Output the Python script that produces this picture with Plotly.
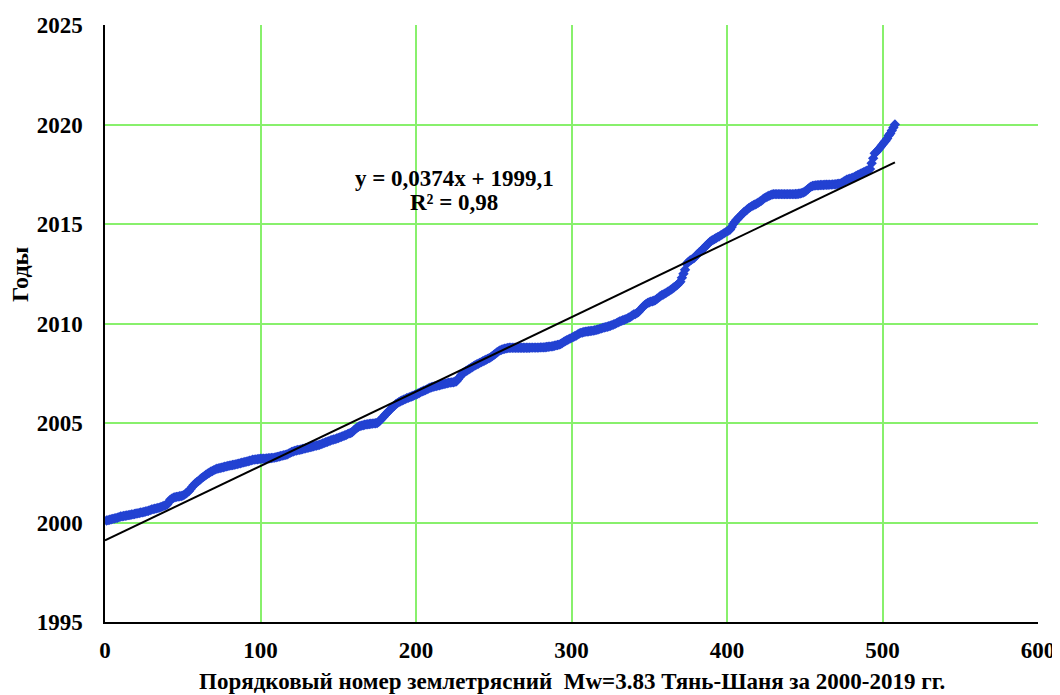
import plotly.graph_objects as go

# Sequence numbers of earthquakes (1..508) and their occurrence year (decimal)
years = [
    2000.10, 2000.12, 2000.14, 2000.16, 2000.18, 2000.20, 2000.22, 2000.24, 2000.27, 2000.30,
    2000.31, 2000.33, 2000.34, 2000.35, 2000.37, 2000.38, 2000.40, 2000.41, 2000.43, 2000.45,
    2000.46, 2000.48, 2000.50, 2000.51, 2000.53, 2000.55, 2000.57, 2000.59, 2000.62, 2000.65,
    2000.67, 2000.69, 2000.71, 2000.73, 2000.75, 2000.78, 2000.81, 2000.84, 2000.87, 2000.90,
    2001.02, 2001.15, 2001.20, 2001.24, 2001.27, 2001.29, 2001.30, 2001.32, 2001.33, 2001.35,
    2001.40, 2001.46, 2001.52, 2001.58, 2001.68, 2001.78, 2001.88, 2001.96, 2002.02, 2002.08,
    2002.15, 2002.22, 2002.28, 2002.34, 2002.40, 2002.45, 2002.50, 2002.55, 2002.59, 2002.63,
    2002.67, 2002.70, 2002.72, 2002.74, 2002.76, 2002.78, 2002.80, 2002.82, 2002.84, 2002.86,
    2002.87, 2002.89, 2002.90, 2002.92, 2002.94, 2002.96, 2002.98, 2003.00, 2003.02, 2003.04,
    2003.06, 2003.08, 2003.10, 2003.12, 2003.15, 2003.16, 2003.17, 2003.18, 2003.19, 2003.20,
    2003.20, 2003.21, 2003.21, 2003.22, 2003.23, 2003.23, 2003.24, 2003.25, 2003.26, 2003.28,
    2003.30, 2003.32, 2003.34, 2003.36, 2003.38, 2003.40, 2003.42, 2003.46, 2003.50, 2003.54,
    2003.57, 2003.60, 2003.62, 2003.64, 2003.65, 2003.67, 2003.69, 2003.71, 2003.73, 2003.75,
    2003.77, 2003.79, 2003.81, 2003.83, 2003.85, 2003.87, 2003.89, 2003.91, 2003.94, 2003.97,
    2004.00, 2004.03, 2004.06, 2004.09, 2004.12, 2004.15, 2004.17, 2004.19, 2004.22, 2004.25,
    2004.28, 2004.31, 2004.34, 2004.37, 2004.40, 2004.44, 2004.48, 2004.50, 2004.55, 2004.62,
    2004.70, 2004.76, 2004.81, 2004.85, 2004.87, 2004.89, 2004.91, 2004.93, 2004.94, 2004.95,
    2004.96, 2004.97, 2004.98, 2004.99, 2005.00, 2005.06, 2005.14, 2005.22, 2005.30, 2005.40,
    2005.48, 2005.56, 2005.64, 2005.72, 2005.80, 2005.87, 2005.94, 2006.00, 2006.05, 2006.09,
    2006.13, 2006.17, 2006.20, 2006.24, 2006.27, 2006.30, 2006.33, 2006.36, 2006.40, 2006.43,
    2006.47, 2006.51, 2006.55, 2006.59, 2006.62, 2006.65, 2006.69, 2006.73, 2006.77, 2006.80,
    2006.82, 2006.84, 2006.86, 2006.88, 2006.90, 2006.92, 2006.94, 2006.96, 2006.98, 2007.00,
    2007.02, 2007.03, 2007.04, 2007.05, 2007.07, 2007.10, 2007.20, 2007.30, 2007.40, 2007.50,
    2007.55, 2007.60, 2007.65, 2007.70, 2007.75, 2007.80, 2007.85, 2007.90, 2007.94, 2007.98,
    2008.02, 2008.06, 2008.10, 2008.14, 2008.18, 2008.22, 2008.26, 2008.30, 2008.36, 2008.42,
    2008.48, 2008.54, 2008.60, 2008.65, 2008.68, 2008.71, 2008.73, 2008.75, 2008.77, 2008.78,
    2008.78, 2008.78, 2008.78, 2008.78, 2008.78, 2008.78, 2008.78, 2008.78, 2008.78, 2008.78,
    2008.78, 2008.78, 2008.78, 2008.79, 2008.79, 2008.79, 2008.79, 2008.79, 2008.79, 2008.80,
    2008.80, 2008.80, 2008.81, 2008.82, 2008.83, 2008.84, 2008.85, 2008.86, 2008.88, 2008.90,
    2008.92, 2008.94, 2008.97, 2009.02, 2009.07, 2009.12, 2009.16, 2009.20, 2009.24, 2009.28,
    2009.32, 2009.36, 2009.40, 2009.45, 2009.50, 2009.53, 2009.55, 2009.57, 2009.59, 2009.60,
    2009.61, 2009.62, 2009.63, 2009.64, 2009.66, 2009.68, 2009.70, 2009.73, 2009.75, 2009.78,
    2009.80, 2009.82, 2009.84, 2009.86, 2009.89, 2009.92, 2009.95, 2009.98, 2010.02, 2010.06,
    2010.10, 2010.13, 2010.16, 2010.19, 2010.22, 2010.26, 2010.30, 2010.34, 2010.40, 2010.45,
    2010.48, 2010.52, 2010.58, 2010.66, 2010.75, 2010.84, 2010.92, 2010.98, 2011.03, 2011.07,
    2011.10, 2011.12, 2011.14, 2011.18, 2011.24, 2011.30, 2011.37, 2011.42, 2011.46, 2011.50,
    2011.55, 2011.60, 2011.65, 2011.70, 2011.76, 2011.82, 2011.88, 2011.94, 2012.02, 2012.10,
    2012.30, 2012.50, 2012.70, 2013.00, 2013.08, 2013.15, 2013.20, 2013.25, 2013.30, 2013.40,
    2013.48, 2013.56, 2013.62, 2013.70, 2013.78, 2013.86, 2013.94, 2014.02, 2014.10, 2014.16,
    2014.20, 2014.25, 2014.30, 2014.34, 2014.38, 2014.43, 2014.48, 2014.53, 2014.58, 2014.63,
    2014.67, 2014.72, 2014.85, 2015.00, 2015.10, 2015.20, 2015.28, 2015.36, 2015.44, 2015.52,
    2015.60, 2015.66, 2015.73, 2015.80, 2015.85, 2015.90, 2015.94, 2015.98, 2016.02, 2016.07,
    2016.12, 2016.17, 2016.23, 2016.30, 2016.34, 2016.38, 2016.42, 2016.45, 2016.48, 2016.50,
    2016.50, 2016.50, 2016.50, 2016.50, 2016.50, 2016.50, 2016.50, 2016.50, 2016.50, 2016.50,
    2016.50, 2016.50, 2016.50, 2016.51, 2016.51, 2016.52, 2016.53, 2016.55, 2016.58, 2016.62,
    2016.68, 2016.75, 2016.82, 2016.88, 2016.91, 2016.93, 2016.94, 2016.95, 2016.95, 2016.96,
    2016.96, 2016.96, 2016.97, 2016.97, 2016.97, 2016.98, 2016.98, 2016.99, 2016.99, 2017.00,
    2017.01, 2017.02, 2017.03, 2017.08, 2017.13, 2017.18, 2017.22, 2017.25, 2017.28, 2017.30,
    2017.33, 2017.37, 2017.41, 2017.45, 2017.49, 2017.53, 2017.57, 2017.60, 2017.64, 2017.68,
    2017.72, 2017.76, 2018.05, 2018.30, 2018.55, 2018.62, 2018.70, 2018.80, 2018.90, 2019.00,
    2019.10, 2019.18, 2019.30, 2019.45, 2019.55, 2019.70, 2019.85, 2020.00,
]
numbers = list(range(1, len(years) + 1))

# Linear trend shown on the chart
trend_slope = 0.0374
trend_intercept = 1999.1
trend_x = [0, 508]
trend_eq = "y = 0,0374x + 1999,1"
trend_r2 = "R² = 0,98"

x_ticks = [0, 100, 200, 300, 400, 500, 600]
y_ticks = [1995, 2000, 2005, 2010, 2015, 2020, 2025]
x_title = "Порядковый номер землетрясний  Mw=3.83 Тянь-Шаня за 2000-2019 гг."
y_title = "Годы"

FONT = "Liberation Serif"
GRID = "#88F06C"

fig = go.Figure()
fig.add_trace(go.Scatter(
    x=numbers, y=years, mode="markers",
    marker=dict(symbol="diamond", size=8, color="#2342D2", line=dict(width=0)),
    showlegend=False, hoverinfo="x+y",
))
fig.add_trace(go.Scatter(
    x=trend_x, y=[trend_slope * v + trend_intercept for v in trend_x],
    mode="lines", line=dict(color="black", width=2),
    showlegend=False, hoverinfo="skip",
))

fig.add_annotation(x=224.5, y=2017.31, xref="x", yref="y", text="<b>" + trend_eq + "</b>",
                   showarrow=False, font=dict(family=FONT, size=23, color="black"))
fig.add_annotation(x=224.5, y=2016.06, xref="x", yref="y", text="<b>" + trend_r2 + "</b>",
                   showarrow=False, font=dict(family=FONT, size=23, color="black"))

# axis titles
fig.add_annotation(x=0.5, y=-0.099, xref="paper", yref="paper", text="<b>" + x_title + "</b>",
                   showarrow=False, xanchor="center", yanchor="middle",
                   font=dict(family=FONT, size=23, color="black"))
fig.add_annotation(x=-0.091, y=0.583, xref="paper", yref="paper", text="<b>" + y_title + "</b>",
                   showarrow=False, textangle=-90, xanchor="center", yanchor="middle",
                   font=dict(family=FONT, size=24, color="black"))

fig.update_layout(
    width=1052, height=687,
    margin=dict(l=97, r=22, t=17, b=73),
    paper_bgcolor="white", plot_bgcolor="white",
    font=dict(family=FONT, color="black"),
    xaxis=dict(
        range=[0, 600], tickvals=x_ticks, showgrid=True, gridcolor=GRID, gridwidth=1.5,
        showline=True, linecolor="black", linewidth=1.5, zeroline=False,
        ticks="", ticklabelstandoff=7, automargin=False,
        tickfont=dict(family=FONT, size=23, color="black", weight="bold"),
    ),
    yaxis=dict(
        range=[1995, 2025], tickvals=y_ticks, showgrid=True, gridcolor=GRID, gridwidth=1.5,
        showline=True, linecolor="black", linewidth=1.5, zeroline=False,
        ticks="", ticklabelstandoff=16, automargin=False,
        tickfont=dict(family=FONT, size=23, color="black", weight="bold"),
    ),
)

fig.write_html("out.html")
